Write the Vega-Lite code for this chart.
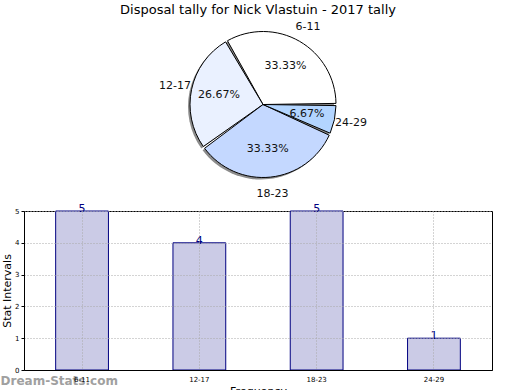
{
  "$schema": "https://vega.github.io/schema/vega-lite/v6.json",
  "padding": {"left": 0, "top": 3, "right": 5, "bottom": 0},
  "background": "white",
  "spacing": 2,
  "config": {"font": "DejaVu Sans", "view": {"stroke": null}},
  "datasets": {
    "d": [
      {"cat": "6-11", "val": 5, "pct": "33.33%", "ord": 1},
      {"cat": "12-17", "val": 4, "pct": "26.67%", "ord": 2},
      {"cat": "18-23", "val": 5, "pct": "33.33%", "ord": 3},
      {"cat": "24-29", "val": 1, "pct": "6.67%", "ord": 4}
    ]
  },
  "vconcat": [
    {
      "width": 468,
      "height": 155,
      "title": {"text": "Disposal tally for Nick Vlastuin - 2017 tally", "fontSize": 13, "fontWeight": "normal", "color": "black", "offset": 4},
      "data": {"name": "d"},
      "encoding": {
        "theta": {"field": "val", "type": "quantitative", "stack": true, "scale": {"range": [1.5708, -4.7124]}},
        "order": {"field": "ord", "type": "quantitative"}
      },
      "layer": [
        {"mark": {"type": "arc", "radius": 73, "color": "#8c8c8c", "xOffset": 3, "yOffset": 2, "padAngle": 0.03}},
        {
          "mark": {"type": "arc", "radius": 73, "stroke": "black", "strokeWidth": 1, "padAngle": 0.03, "xOffset": 5},
          "encoding": {
            "color": {
              "field": "cat", "type": "nominal",
              "scale": {"domain": ["6-11", "12-17", "18-23", "24-29"], "range": ["#ffffff", "#eaf1ff", "#c4d8ff", "#b3d5ff"]},
              "legend": null
            }
          }
        },
        {"mark": {"type": "text", "radius": 45, "fontSize": 11, "color": "#111", "xOffset": 5}, "encoding": {"text": {"field": "pct"}}},
        {"mark": {"type": "text", "radius": 90, "fontSize": 11, "color": "#111", "xOffset": 5}, "encoding": {"text": {"field": "cat"}}}
      ]
    },
    {
      "width": 468,
      "height": 159,
      "view": {"stroke": "black"},
      "title": {"text": "Dream-Stats.com", "orient": "bottom", "anchor": "start", "frame": "bounds", "color": "#a0a0a0", "fontSize": 12, "fontWeight": "bold", "offset": -20, "dx": -1},
      "data": {"name": "d"},
      "encoding": {
        "x": {
          "field": "cat", "type": "nominal", "sort": ["6-11", "12-17", "18-23", "24-29"],
          "scale": {"paddingInner": 0.55, "paddingOuter": 0.27},
          "axis": {"title": "Frequency", "titleFontSize": 11, "titleFontWeight": "normal", "titleColor": "black", "titlePadding": 3, "labelAngle": 0, "labelFontSize": 7, "labelColor": "black", "labelPadding": 5, "ticks": false, "domainColor": "black", "grid": true, "gridDash": [1, 2], "gridColor": "#a8a8a8", "zindex": 1}
        },
        "y": {
          "field": "val", "type": "quantitative",
          "scale": {"domain": [0, 5]},
          "axis": {"title": "Stat Intervals", "titleFontSize": 11, "titleFontWeight": "normal", "titleColor": "black", "titlePadding": 2, "values": [0, 1, 2, 3, 4, 5], "labelFontSize": 7, "labelColor": "black", "labelPadding": 2, "tickSize": 3, "tickColor": "black", "domainColor": "black", "grid": true, "gridDash": [1, 2], "gridColor": "#a8a8a8", "zindex": 1}
        }
      },
      "layer": [
        {"mark": {"type": "bar", "fill": "#cbcbe6", "stroke": "#000080", "strokeWidth": 1}},
        {"mark": {"type": "text", "color": "#000080", "fontSize": 11, "baseline": "alphabetic", "dy": 1}, "encoding": {"text": {"field": "val", "type": "quantitative"}}}
      ]
    }
  ]
}
